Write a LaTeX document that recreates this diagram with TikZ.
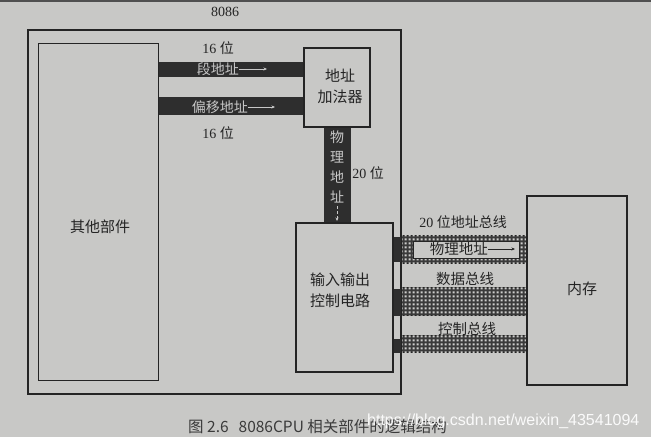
\documentclass[tikz,border=0pt]{standalone}
\usepackage{fontspec}
\setmainfont{Liberation Serif}
\newfontfamily\cjk{Noto Sans CJK SC}
\newfontfamily\wmfont{Liberation Sans}
\usetikzlibrary{patterns,patterns.meta,arrows.meta}
\definecolor{paper}{RGB}{200,200,198}
\definecolor{ink}{RGB}{36,36,36}
\definecolor{barc}{RGB}{46,46,46}
\definecolor{barlabel}{RGB}{200,200,200}
\definecolor{hatchbg}{RGB}{58,58,58}
\definecolor{hatchfg}{RGB}{205,205,203}
\tikzdeclarepattern{
  name=buscheck,
  type=uncolored,
  bottom left={(0pt,0pt)},
  top right={(4pt,4pt)},
  tile size={(4pt,4pt)},
  code={\fill (0.8pt,0.8pt) rectangle (3.2pt,3.2pt);}
}
\begin{document}
\begin{tikzpicture}[x=1pt,y=-1pt,
  box/.style={draw=ink, line width=1.1pt, inner sep=0pt, anchor=north west},
  txt/.style={text=ink, font=\fontsize{15}{21}\selectfont\cjk, align=center, inner sep=0pt},
  num/.style={text=ink, font=\fontsize{14}{17}\selectfont, inner sep=0pt},
  onbar/.style={text=barlabel, font=\fontsize{14}{20}\selectfont\cjk, align=center, inner sep=0pt},
  bararrow/.style={draw=barlabel, line width=0.6pt, -{Stealth[length=3.5pt,width=3pt]}},
  darkbar/.style={fill=barc},
  hatchbase/.style={fill=hatchbg, draw=ink, line width=0.8pt},
  hatchtop/.style={pattern=buscheck, pattern color=hatchfg}
]
% background
\fill[paper] (0,0) rectangle (651,437);
\useasboundingbox (0,0) rectangle (651,437);
\fill[ink!80] (0,0) rectangle (651,1.8);

% boxes
\node[box, minimum width=372pt, minimum height=363pt] (cpu) at (28,30) {};
\node[box, minimum width=120pt, minimum height=337pt] (other) at (38,43) {};
\node[box, minimum width=65pt, minimum height=78pt] (adder) at (304,48) {};
\node[box, minimum width=96pt, minimum height=148pt] (io) at (296,223) {};
\node[box, minimum width=99pt, minimum height=188pt] (mem) at (527,196) {};

% internal dark buses
\fill[darkbar] (other.east |- 0,62) rectangle (adder.west |- 0,77);
\fill[darkbar] (other.east |- 0,97) rectangle (adder.west |- 0,115);
\fill[darkbar] (324,0 |- adder.south) rectangle (351,0 |- io.north);
% stubs between io and cpu border
\fill[darkbar] (io.east |- 0,237) rectangle (cpu.east |- 0,262);
\fill[darkbar] (io.east |- 0,289) rectangle (cpu.east |- 0,316);
\fill[darkbar] (io.east |- 0,339) rectangle (cpu.east |- 0,353);

% external hatched buses
\filldraw[hatchbase] (cpu.east |- 0,235) rectangle (mem.west |- 0,263);
\fill[hatchtop] (cpu.east |- 0,235) rectangle (mem.west |- 0,263);
\filldraw[fill=paper, draw=ink, line width=0.4pt] (413,241) rectangle (519,258);
\filldraw[hatchbase] (cpu.east |- 0,287) rectangle (mem.west |- 0,315);
\fill[hatchtop] (cpu.east |- 0,287) rectangle (mem.west |- 0,315);
\filldraw[hatchbase] (cpu.east |- 0,335) rectangle (mem.west |- 0,352);
\fill[hatchtop] (cpu.east |- 0,335) rectangle (mem.west |- 0,352);

% redraw borders on top
\draw[ink, line width=1.1pt] (cpu.north west) rectangle (cpu.south east);
\draw[ink, line width=1.1pt] (adder.north west) rectangle (adder.south east);
\draw[ink, line width=1.1pt] (io.north west) rectangle (io.south east);
\draw[ink, line width=1.1pt] (mem.north west) rectangle (mem.south east);

% labels
\node[num] (title) at (225,12) {8086};
\node[num] (w1) at (218,48) {16 {\cjk 位}};
\node[num] (w2) at (218,133) {16 {\cjk 位}};
\node[num] (w3) at (368,173) {20 {\cjk 位}};
\node[txt] (otherlbl) at (100,227) {其他部件};
\node[txt] (adderlbl) at (340,86) {地址\\加法器};
\node[txt] (iolbl) at (340,290) {输入输出\\控制电路};
\node[txt] (memlbl) at (582,289) {内存};

\node[onbar, anchor=east] (seglbl) at (239,69) {段地址};
\coordinate (segend) at (267,69);
\draw[bararrow] (seglbl.east) -- (segend);
\node[onbar, anchor=east] (offlbl) at (248,107) {偏移地址};
\coordinate (offend) at (275,107);
\draw[bararrow] (offlbl.east) -- (offend);

\node[onbar] (vlbl) at (337,167) {物\\理\\地\\址};
\coordinate (vstart) at (337,206);
\coordinate (vend) at (337,221);
\draw[bararrow, densely dashed] (vstart) -- (vend);

\node[num, font=\fontsize{14}{17}\selectfont] (abuslbl) at (463,222) {20 {\cjk 位地址总线}};
\node[txt, font=\fontsize{14.5}{17}\selectfont\cjk, anchor=east] (palbl) at (488,249) {物理地址};
\coordinate (paend) at (515,249);
\draw[draw=ink, line width=0.6pt, -{Stealth[length=3.5pt,width=3pt]}] (palbl.east) -- (paend);
\node[txt, font=\fontsize{14.5}{17}\selectfont\cjk] (dbuslbl) at (465,279) {数据总线};
\node[txt, font=\fontsize{14.5}{17}\selectfont\cjk] (cbuslbl) at (467,329) {控制总线};

% caption and watermark
\node[anchor=west, text=ink!90, font=\fontsize{15.5}{18}\selectfont\cjk, inner sep=0pt] (cap) at (188,427) {图 2.6\hspace{10pt}8086CPU 相关部件的逻辑结构};
\node[anchor=west, text=white, opacity=0.92, font=\fontsize{16}{18}\selectfont\wmfont, inner sep=0pt] (wm) at (367,421) {https://blog.csdn.net/weixin\_43541094};
\end{tikzpicture}
\end{document}
